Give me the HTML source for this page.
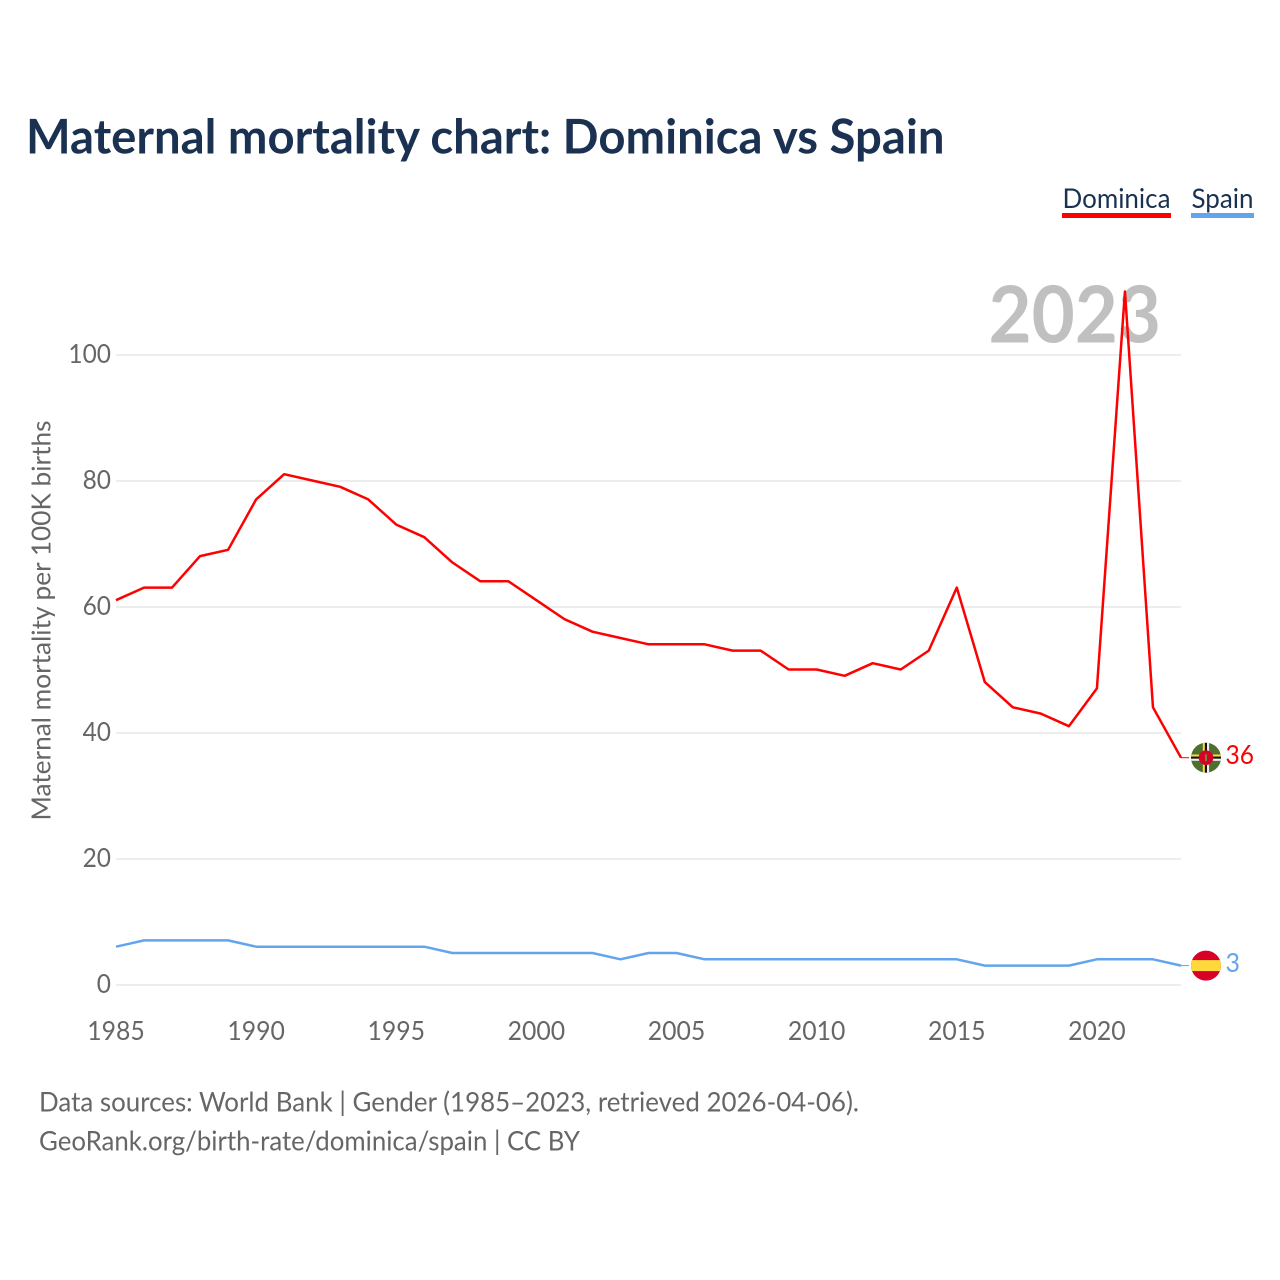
<!DOCTYPE html>
<html lang="en">
<head>
<meta charset="utf-8">
<title>Maternal mortality chart: Dominica vs Spain</title>
<style>
html,body{margin:0;padding:0;background:#fff;width:1280px;height:1280px;overflow:hidden}
svg{display:block}
text{font-family:"Lato","Carlito","Liberation Sans",sans-serif}
</style>
</head>
<body>
<svg id="chart" width="1280" height="1280" viewBox="0 0 1280 1280" xmlns="http://www.w3.org/2000/svg">
  <text x="26" y="153.5" font-size="48" font-weight="700" fill="#1a3152" textLength="918.5" lengthAdjust="spacingAndGlyphs">Maternal mortality chart: Dominica vs Spain</text>

  <g>
    <g>
      <text x="1062.5" y="208" font-size="27" fill="#1a3152" textLength="108" lengthAdjust="spacingAndGlyphs">Dominica</text>
      <rect x="1062" y="213" width="109" height="5" fill="#ff0000"/>
    </g>
    <g>
      <text x="1191.5" y="208" font-size="27" fill="#1a3152" textLength="62" lengthAdjust="spacingAndGlyphs">Spain</text>
      <rect x="1191" y="213" width="63" height="5" fill="#63a5ec"/>
    </g>
  </g>

  <g id="grid"></g>
  <text x="988.5" y="342.5" font-size="79" font-weight="700" fill="#c0c0c0" textLength="172.5" lengthAdjust="spacingAndGlyphs">2023</text>
  <g id="yticks"></g>
  <g id="xticks"></g>
  <text transform="translate(50.5,620.5) rotate(-90)" text-anchor="middle" font-size="26" fill="#666666" textLength="400" lengthAdjust="spacingAndGlyphs">Maternal mortality per 100K births</text>

  <g id="series"></g>

  <g id="flag-dominica">
    <clipPath id="dominica-clip"><circle cx="0" cy="0" r="15"/></clipPath>
    <circle cx="0" cy="0" r="15" fill="#4f6f2f"/>
    <g clip-path="url(#dominica-clip)">
      <rect x="-3.2" y="-15" width="2.1" height="30" fill="#ffd83d"/>
      <rect x="-1.1" y="-15" width="2.1" height="30" fill="#111"/>
      <rect x="1" y="-15" width="2.1" height="30" fill="#f0f0f0"/>
      <rect x="-15" y="-3.2" width="30" height="2.1" fill="#ffd83d"/>
      <rect x="-15" y="-1.1" width="30" height="2.1" fill="#111"/>
      <rect x="-15" y="1" width="30" height="2.1" fill="#f0f0f0"/>
    </g>
    <circle cx="0" cy="0" r="7.3" fill="#d80027"/>
    <rect x="-1" y="-3.5" width="2" height="7" fill="#6b8a3a"/>
  </g>
  <g id="flag-spain">
    <clipPath id="spain-clip"><circle cx="0" cy="0" r="15"/></clipPath>
    <circle cx="0" cy="0" r="15" fill="#d80027"/>
    <rect x="-15" y="-5.5" width="30" height="11" fill="#ffd83d" clip-path="url(#spain-clip)"/>
  </g>

  <text id="value-dominica" x="1225.5" font-size="26" fill="#ff0000" textLength="28.5" lengthAdjust="spacingAndGlyphs"></text>
  <text id="value-spain" x="1225.5" font-size="26" fill="#63a5ec" textLength="14.5" lengthAdjust="spacingAndGlyphs"></text>

  <text x="39" y="1111.5" font-size="27" fill="#666666" textLength="820" lengthAdjust="spacingAndGlyphs">Data sources: World Bank | Gender (1985–2023, retrieved 2026-04-06).</text>
  <text x="39" y="1150.5" font-size="27" fill="#666666" textLength="541" lengthAdjust="spacingAndGlyphs">GeoRank.org/birth-rate/dominica/spain | CC BY</text>
</svg>
<script>
const years = [1985,1986,1987,1988,1989,1990,1991,1992,1993,1994,1995,1996,1997,1998,1999,2000,2001,2002,2003,2004,2005,2006,2007,2008,2009,2010,2011,2012,2013,2014,2015,2016,2017,2018,2019,2020,2021,2022,2023];
const dominicaValues = [61,63,63,68,69,77,81,80,79,77,73,71,67,64,64,61,58,56,55,54,54,54,53,53,50,50,49,51,50,53,63,48,44,43,41,47,110,44,36];
const spainValues = [6,7,7,7,7,6,6,6,6,6,6,6,5,5,5,5,5,5,4,5,5,4,4,4,4,4,4,4,4,4,4,3,3,3,3,4,4,4,3];
const yTickValues = [0,20,40,60,80,100];
const xTickValues = [1985,1990,1995,2000,2005,2010,2015,2020];

const NS = 'http://www.w3.org/2000/svg';
function xScale(year) { return 116 + (year - 1985) * (1181 - 116) / 38; }
function yScale(value) { return 984.5 - value * 6.3; }
function make(tag, attrs) {
  const el = document.createElementNS(NS, tag);
  for (const key in attrs) el.setAttribute(key, attrs[key]);
  return el;
}

const grid = document.getElementById('grid');
const yTicks = document.getElementById('yticks');
yTickValues.forEach(function (v) {
  const gy = Math.round(yScale(v) + 0.5);
  const line = make('line', {x1: 116, x2: 1181, y1: gy, y2: gy, stroke: '#ededed', 'stroke-width': 2});
  
  
  grid.appendChild(line);
  const label = make('text', {x: 111, y: yScale(v) + 8.5, 'text-anchor': 'end', 'font-size': 26, fill: '#666666'});
  
  
  label.setAttribute('textLength', String(v).length * 14.2);
  label.setAttribute('lengthAdjust', 'spacingAndGlyphs');
  label.textContent = v;
  yTicks.appendChild(label);
});

const xTicks = document.getElementById('xticks');
xTickValues.forEach(function (v) {
  const label = make('text', {x: xScale(v), y: 1040, 'text-anchor': 'middle', 'font-size': 26, fill: '#666666', textLength: 57.5, lengthAdjust: 'spacingAndGlyphs'});
  
  
  label.textContent = v;
  xTicks.appendChild(label);
});

function drawSeries(values, color, name) {
  const group = document.getElementById('series');
  const points = values.map(function (v, i) { return xScale(years[i]) + ',' + yScale(v); }).join(' ');
  const line = make('polyline', {points: points, fill: 'none', stroke: color, 'stroke-width': 2.5, 'stroke-linejoin': 'round'});
  
  
  group.appendChild(line);
  const lastY = yScale(values[values.length - 1]);
  const connector = make('line', {x1: 1181, x2: 1189, y1: lastY, y2: lastY, stroke: color, 'stroke-width': 1});
  
  
  group.appendChild(connector);
  document.getElementById('flag-' + name).setAttribute('transform', 'translate(1206,' + lastY + ')');
  const valueLabel = document.getElementById('value-' + name);
  valueLabel.setAttribute('y', lastY + 6.5);
  valueLabel.textContent = values[values.length - 1];
}
drawSeries(dominicaValues, '#ff0000', 'dominica');
drawSeries(spainValues, '#63a5ec', 'spain');
</script>
</body>
</html>
